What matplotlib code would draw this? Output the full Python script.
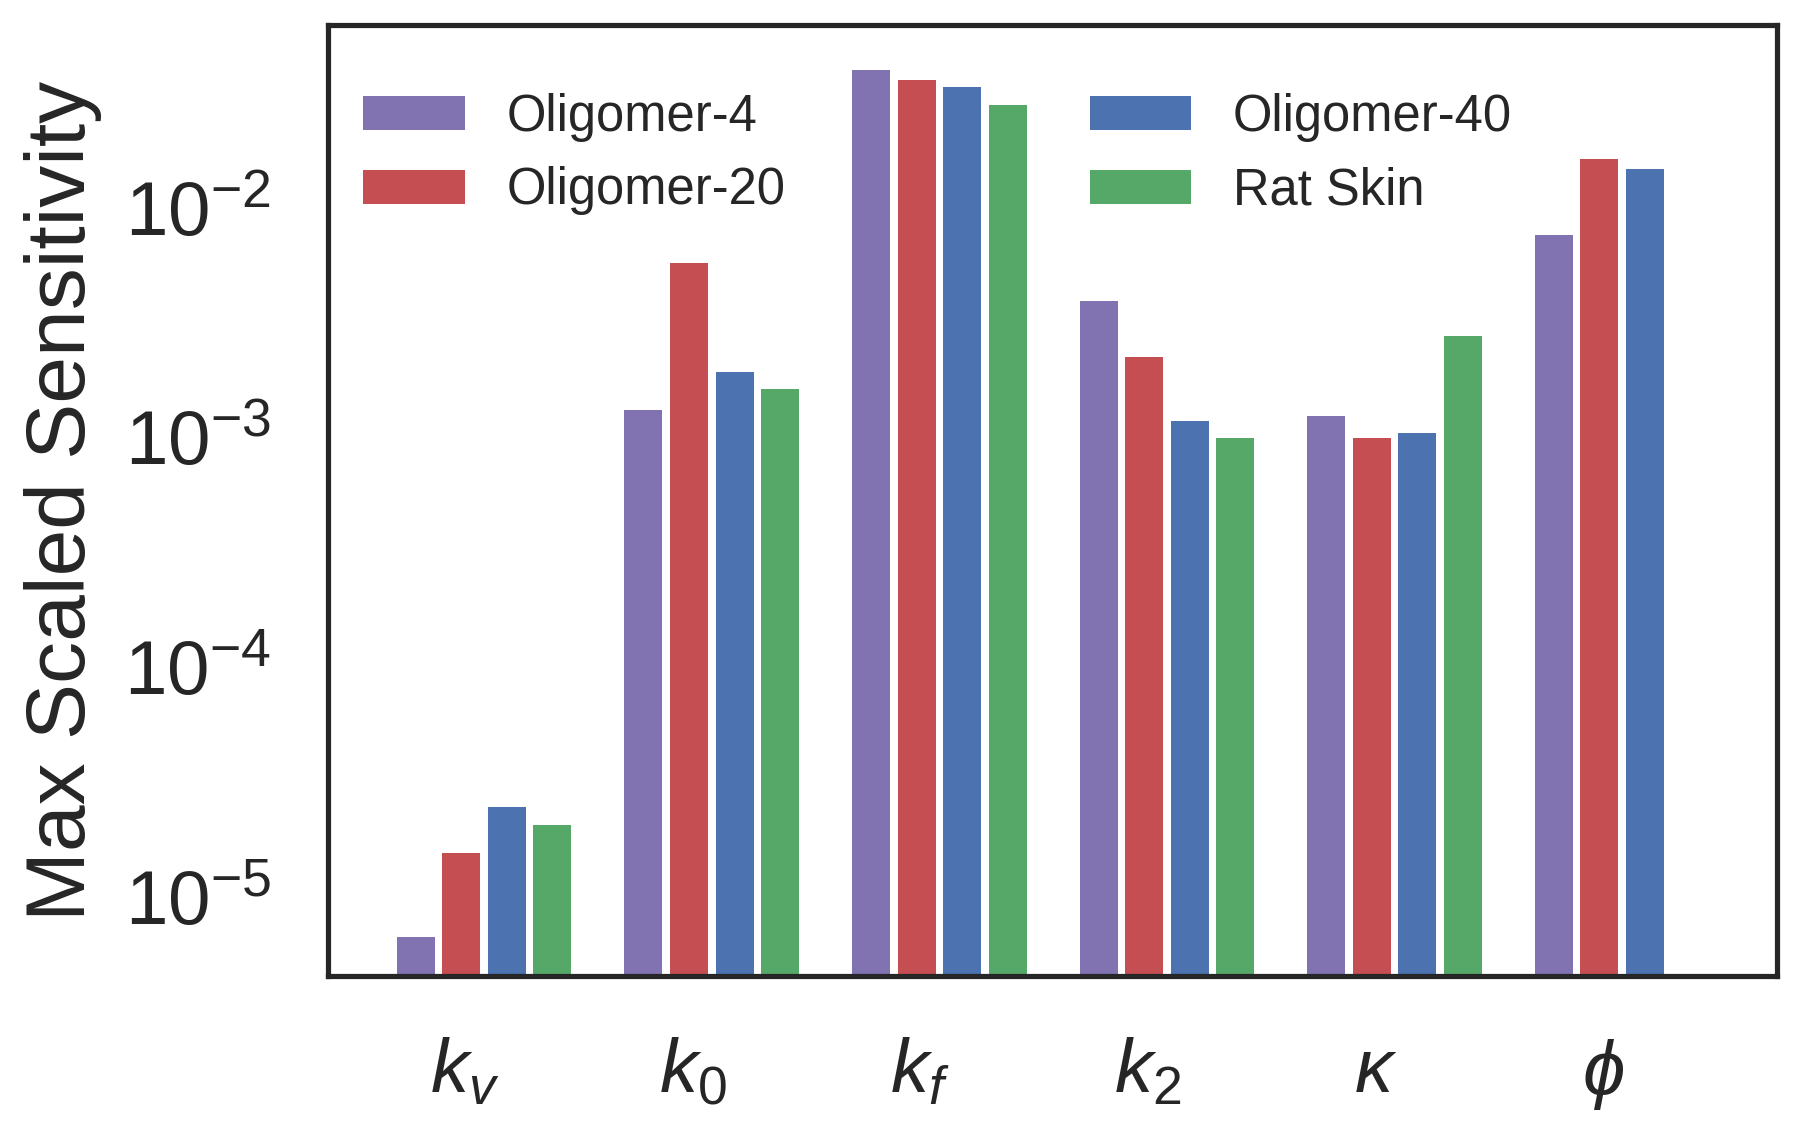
import numpy as np
import matplotlib
matplotlib.use("Agg")
import matplotlib.pyplot as plt
from matplotlib.transforms import ScaledTranslation

# ---- data ----
params = [r"$k_v$", r"$k_0$", r"$k_f$", r"$k_2$", r"$\kappa$", r"$\phi$"]
series = ["Oligomer-4", "Oligomer-20", "Oligomer-40", "Rat Skin"]
oligomer4 = [5.8e-6, 1.15e-3, 0.0347, 3.42e-3, 1.08e-3, 6.6e-3]
oligomer20 = [1.35e-5, 5.0e-3, 0.0314, 1.95e-3, 8.65e-4, 0.0142]
oligomer40 = [2.13e-5, 1.68e-3, 0.0292, 1.03e-3, 9.1e-4, 0.0128]
rat_skin = [1.78e-5, 1.41e-3, 0.0244, 8.65e-4, 2.40e-3]
colors = ["#8172B2", "#C44E52", "#4C72B0", "#55A868"]
ytick_vals = [1e-5, 1e-4, 1e-3, 1e-2]
ytick_labels = [r"$\mathregular{10^{-5}}$", r"$\mathregular{10^{-4}}$",
                r"$\mathregular{10^{-3}}$", r"$\mathregular{10^{-2}}$"]

plt.rcParams["font.family"] = ["Liberation Sans", "DejaVu Sans"]
plt.rcParams["mathtext.fontset"] = "custom"
plt.rcParams["mathtext.rm"] = "Liberation Sans"
plt.rcParams["mathtext.it"] = "Liberation Sans:italic"
plt.rcParams["mathtext.fallback"] = "stixsans"

txt = "#262626"
fig = plt.figure(figsize=(18, 11.39), dpi=100)
W, H = 1800, 1139
ax = fig.add_axes([328 / W, 1 - 976 / H, (1777 - 328) / W, (976 - 25) / H])
ax.set_yscale("log")

width = 0.2
barw = 0.167
data = [oligomer4, oligomer20, oligomer40, rat_skin]
for j, (vals, name, c) in enumerate(zip(data, series, colors)):
    ind = np.arange(len(vals))
    ax.bar(ind + j * width, vals, barw, align="edge", color=c, label=name,
           linewidth=0)

ax.set_xlim(-0.303, 6.065)
ax.set_ylim(3.92e-6, 0.0545)
ax.set_xticks(np.arange(len(params)) + 1.5 * width)
ax.set_xticklabels(params)
ax.set_yticks(ytick_vals)
ax.set_yticklabels(ytick_labels)
ax.yaxis.set_minor_locator(matplotlib.ticker.NullLocator())
ax.tick_params(axis="x", length=0, pad=44, labelsize=55, colors=txt)
ax.tick_params(axis="y", length=0, pad=41, labelsize=55, colors=txt)
ax.set_ylabel("Max Scaled Sensitivity", fontsize=60.5, color=txt, labelpad=16)

# nudge y tick labels down so the "10" sits where the reference has it
off = ScaledTranslation(0, -14 / 100, fig.dpi_scale_trans)
for lab in ax.get_yticklabels():
    lab.set_transform(lab.get_transform() + off)

for s in ax.spines.values():
    s.set_linewidth(3.75)
    s.set_color(txt)

leg = ax.legend(ncol=2, loc="upper left", bbox_to_anchor=(0.0, 0.966),
                frameon=False, fontsize=36.5, handlelength=2.0,
                handleheight=0.65, handletextpad=0.82, columnspacing=6.0,
                labelspacing=0.485, borderaxespad=0.3)
for t in leg.get_texts():
    t.set_color(txt)

fig.savefig("out.png", dpi=100, facecolor="white")
